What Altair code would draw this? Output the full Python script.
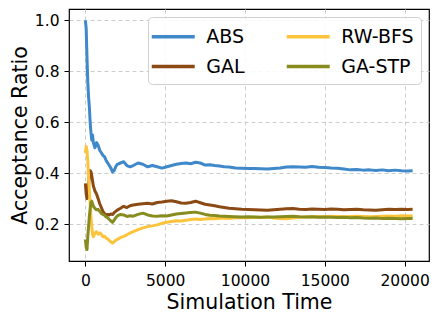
import altair as alt
import pandas as pd

times = [0, 50, 100, 150, 200, 250, 300, 350, 400, 450, 500,
         600, 700, 800, 900, 1000, 1100, 1200, 1300, 1400, 1500, 1600, 1700, 1800, 1900, 2000,
         2200, 2400, 2600, 2800, 3000,
         3300, 3600, 3900, 4200, 4500, 4800, 5100, 5400, 5700, 6000, 6300, 6600, 6900, 7200,
         7500, 7800, 8100, 8400, 8700,
         9000, 9400, 9800, 10200, 10600, 11000, 11400, 11800, 12200, 12600, 13000, 13400,
         13800, 14200, 14600, 15000, 15400, 15800, 16200, 16600, 17000, 17400, 17800, 18200,
         18600, 19000, 19400, 19800, 20200, 20500]

abs_vals = [1.00, 0.97, 0.86, 0.76, 0.70, 0.66, 0.60, 0.56, 0.53, 0.55, 0.52,
            0.50, 0.52, 0.51, 0.49, 0.48, 0.47, 0.465, 0.45, 0.44, 0.43, 0.42, 0.405, 0.41, 0.425, 0.435,
            0.44, 0.445, 0.43, 0.425, 0.43,
            0.44, 0.435, 0.425, 0.43, 0.425, 0.42, 0.425, 0.43, 0.435, 0.438, 0.44, 0.437, 0.443, 0.44,
            0.432, 0.433, 0.43, 0.428, 0.425,
            0.424, 0.42, 0.419, 0.418, 0.418, 0.417, 0.416, 0.418, 0.42, 0.424, 0.425, 0.424,
            0.423, 0.426, 0.423, 0.422, 0.42, 0.419, 0.416, 0.413, 0.414, 0.412, 0.413, 0.411,
            0.413, 0.41, 0.412, 0.41, 0.409, 0.41]

gal_vals = [0.36, 0.32, 0.30, 0.31, 0.35, 0.39, 0.41, 0.405, 0.39, 0.37, 0.35,
            0.33, 0.318, 0.30, 0.28, 0.265, 0.25, 0.242, 0.235, 0.238, 0.236, 0.24, 0.238, 0.245, 0.25, 0.255,
            0.262, 0.27, 0.265, 0.272, 0.275,
            0.278, 0.28, 0.282, 0.279, 0.285, 0.287, 0.29, 0.292, 0.288, 0.283, 0.282, 0.285, 0.29, 0.284,
            0.278, 0.275, 0.272, 0.268, 0.265,
            0.262, 0.26, 0.258, 0.257, 0.256, 0.255, 0.254, 0.256, 0.258, 0.26, 0.261, 0.258,
            0.257, 0.259, 0.258, 0.257, 0.259, 0.258, 0.256, 0.257, 0.258, 0.256, 0.255, 0.254,
            0.256, 0.258, 0.257, 0.258, 0.257, 0.258]

rwbfs_vals = [0.48, 0.505, 0.49, 0.45, 0.39, 0.33, 0.28, 0.23, 0.19, 0.16, 0.15,
              0.165, 0.17, 0.16, 0.165, 0.16, 0.15, 0.152, 0.145, 0.142, 0.135, 0.13, 0.125, 0.13, 0.137, 0.14,
              0.147, 0.152, 0.158, 0.165, 0.17,
              0.178, 0.185, 0.19, 0.193, 0.197, 0.203, 0.207, 0.21, 0.213, 0.212, 0.215, 0.218, 0.22, 0.218,
              0.22, 0.222, 0.221, 0.223, 0.224,
              0.222, 0.225, 0.226, 0.225, 0.227, 0.226, 0.228, 0.224, 0.222, 0.221, 0.224, 0.227,
              0.228, 0.229, 0.23, 0.229, 0.231, 0.23, 0.229, 0.23, 0.231, 0.23, 0.229, 0.23,
              0.231, 0.232, 0.231, 0.233, 0.232, 0.233]

gastp_vals = [0.14, 0.11, 0.10, 0.15, 0.19, 0.23, 0.26, 0.285, 0.29, 0.28, 0.27,
              0.262, 0.256, 0.258, 0.25, 0.242, 0.238, 0.235, 0.228, 0.225, 0.218, 0.212, 0.207, 0.215, 0.225, 0.232,
              0.238, 0.236, 0.23, 0.233, 0.231,
              0.238, 0.243, 0.236, 0.232, 0.231, 0.233, 0.232, 0.236, 0.24, 0.242, 0.244, 0.246, 0.247, 0.243,
              0.238, 0.235, 0.234, 0.232, 0.231,
              0.23, 0.229, 0.228, 0.229, 0.228, 0.227, 0.228, 0.228, 0.229, 0.23, 0.231, 0.229,
              0.228, 0.229, 0.227, 0.228, 0.227, 0.226, 0.227, 0.225, 0.226, 0.224, 0.223, 0.224,
              0.222, 0.223, 0.222, 0.221, 0.222, 0.222]

series_names = ["ABS", "GAL", "RW-BFS", "GA-STP"]
series_values = [abs_vals, gal_vals, rwbfs_vals, gastp_vals]
colors = {"ABS": "#3f88c9", "GAL": "#8b4a13", "RW-BFS": "#fcc43c", "GA-STP": "#878c1e"}

x_ticks = [0, 5000, 10000, 15000, 20000]
y_ticks = [0.2, 0.4, 0.6, 0.8, 1.0]

rows = []
for name, vals in zip(series_names, series_values):
    for t, v in zip(times, vals):
        rows.append({"time": t, "ratio": v, "series": name})
df = pd.DataFrame(rows)

FONT = "DejaVu Sans"

color_scale = alt.Scale(domain=series_names, range=[colors[n] for n in series_names])

x_enc = alt.X("time:Q", scale=alt.Scale(domain=[-1025, 21525], nice=False, zero=False),
              axis=alt.Axis(values=x_ticks, format="d", title="Simulation Time",
                            labelPadding=7, titlePadding=4))
y_enc = alt.Y("ratio:Q", scale=alt.Scale(domain=[0.055, 1.045], nice=False, zero=False),
              axis=alt.Axis(values=y_ticks, format=".1f", title="Acceptance Ratio",
                            labelPadding=5, titlePadding=4))

layers = []
for i, name in enumerate(series_names):
    layers.append(
        alt.Chart(df).transform_filter(alt.datum.series == name)
        .mark_line(strokeWidth=3, strokeJoin="round", clip=True)
        .encode(
            x=x_enc, y=y_enc,
            color=alt.Color("series:N", scale=color_scale,
                            legend=alt.Legend(
                                title=None, orient="top-right", columns=2, offset=8,
                                symbolType="M-2,0H2", symbolSize=462, symbolStrokeWidth=3.5,
                                symbolOffset=5.75,
                                labelFont=FONT, labelFontSize=19, labelColor="#000",
                                labelOffset=20.5, columnPadding=34, rowPadding=7,
                                padding=7, fillColor="rgba(255,255,255,0.85)",
                                strokeColor="#d0d0d0", cornerRadius=4,
                            ) if i == 0 else None),
        )
    )

chart = alt.layer(*layers).properties(
    width=360, height=252,
    autosize=alt.AutoSizeParams(type="none"),
    padding={"left": 61, "top": 1, "right": 3, "bottom": 52},
).configure_view(
    stroke="#000", strokeWidth=1.2
).configure_axis(
    grid=True, gridColor="#cccccc", gridDash=[4, 3], gridWidth=1,
    domain=False, ticks=True, tickColor="#000", tickSize=5, tickWidth=1,
    labelFont=FONT, labelFontSize=15.5, labelColor="#000",
    titleFont=FONT, titleFontSize=20.5, titleFontWeight="normal", titleColor="#000",
)

chart.save("out.html", embed_options={"renderer": "svg", "actions": False})
